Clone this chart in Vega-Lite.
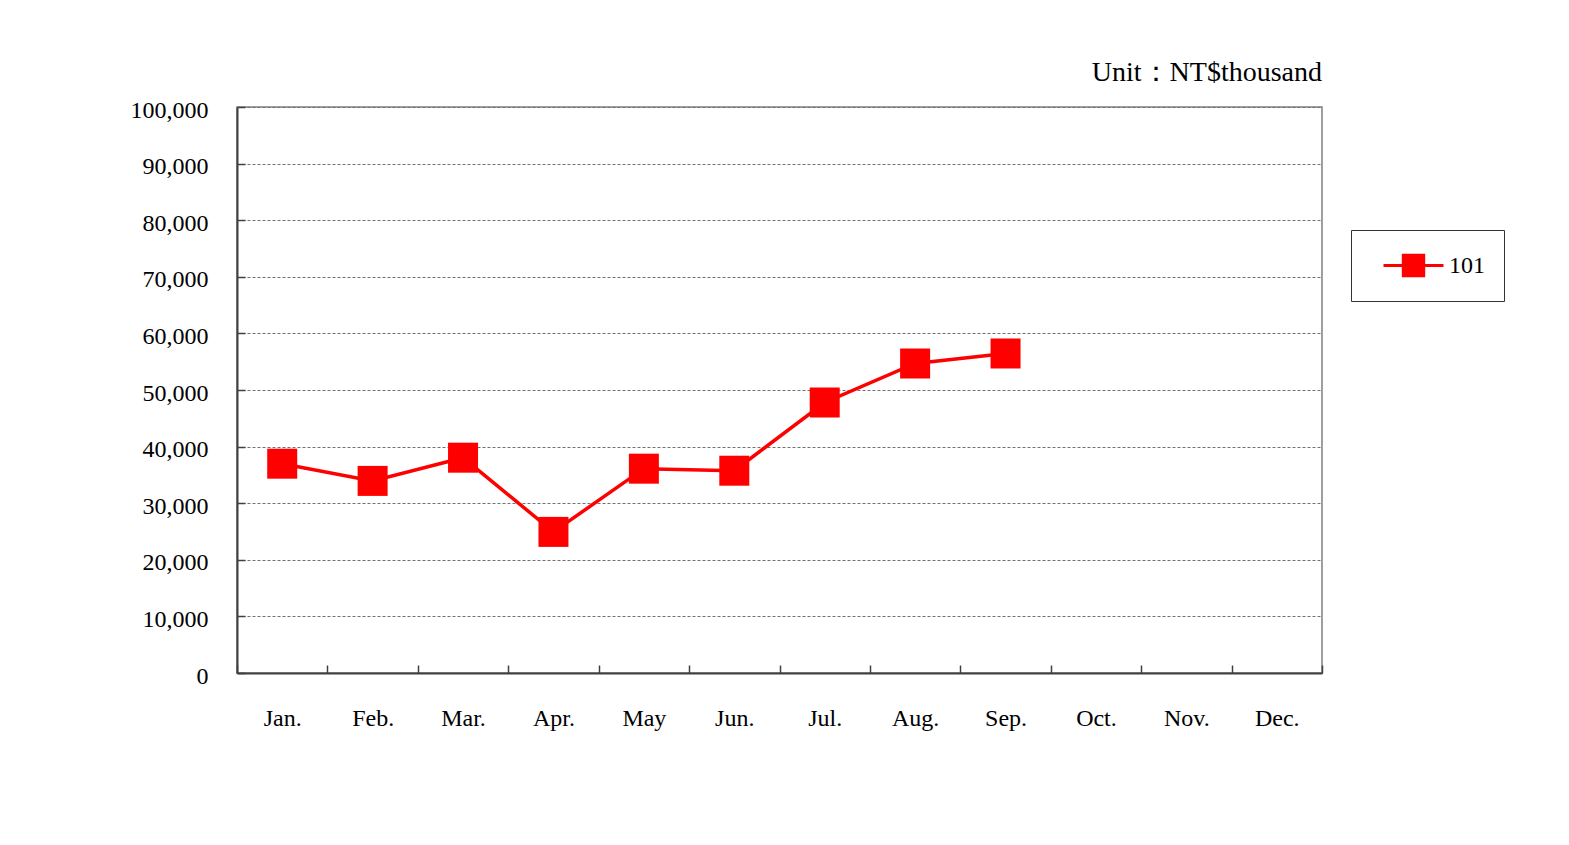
{
  "$schema": "https://vega.github.io/schema/vega-lite/v6.json",
  "autosize": {"type": "none"},
  "padding": {"left": 237, "top": 107, "right": 247, "bottom": 172},
  "width": 1085,
  "height": 566,
  "background": "white",
  "title": {
    "text": "Unit：NT$thousand",
    "anchor": "end",
    "frame": "group",
    "orient": "top",
    "baseline": "alphabetic",
    "offset": -11,
    "font": "Liberation Serif",
    "fontSize": 28,
    "fontWeight": "normal",
    "color": "#000000"
  },
  "data": {
    "values": [
      {"month": "Jan.", "value": 36980, "series": "101"},
      {"month": "Feb.", "value": 33940, "series": "101"},
      {"month": "Mar.", "value": 38040, "series": "101"},
      {"month": "Apr.", "value": 24930, "series": "101"},
      {"month": "May", "value": 36100, "series": "101"},
      {"month": "Jun.", "value": 35740, "series": "101"},
      {"month": "Jul.", "value": 47790, "series": "101"},
      {"month": "Aug.", "value": 54680, "series": "101"},
      {"month": "Sep.", "value": 56450, "series": "101"}
    ]
  },
  "mark": {
    "type": "line",
    "strokeWidth": 3.5,
    "point": {"filled": true, "shape": "square", "size": 900, "opacity": 1}
  },
  "encoding": {
    "x": {
      "field": "month",
      "type": "ordinal",
      "sort": null,
      "scale": {
        "type": "band",
        "domain": ["Jan.", "Feb.", "Mar.", "Apr.", "May", "Jun.", "Jul.", "Aug.", "Sep.", "Oct.", "Nov.", "Dec."],
        "paddingInner": 0,
        "paddingOuter": 0
      },
      "axis": {
        "title": null,
        "labelAngle": 0,
        "labelFont": "Liberation Serif",
        "labelFontSize": 24,
        "labelColor": "#000000",
        "labelPadding": 41,
        "tickBand": "extent",
        "tickSize": -8,
        "tickColor": "#404040",
        "tickWidth": 1.5,
        "domainColor": "#404040",
        "domainWidth": 2,
        "grid": false
      }
    },
    "y": {
      "field": "value",
      "type": "quantitative",
      "scale": {"domain": [0, 100000], "nice": false},
      "axis": {
        "title": null,
        "values": [0, 10000, 20000, 30000, 40000, 50000, 60000, 70000, 80000, 90000, 100000],
        "format": ",.0f",
        "labelFont": "Liberation Serif",
        "labelFontSize": 24,
        "labelColor": "#000000",
        "labelPadding": 37,
        "labelOffset": 3,
        "tickSize": -8,
        "tickColor": "#404040",
        "tickWidth": 1.5,
        "domainColor": "#404040",
        "domainWidth": 2,
        "grid": true,
        "gridColor": "#707070",
        "gridDash": [3, 2],
        "gridWidth": 1
      }
    },
    "color": {
      "field": "series",
      "type": "nominal",
      "scale": {"range": ["#FF0000"]},
      "legend": {
        "title": null,
        "orient": "none",
        "legendX": 1114,
        "legendY": 123,
        "padding": 19,
        "symbolOffset": 27,
        "symbolType": "M-2,0H-0.72M0.72,0H2M-0.68,-0.68H0.68V0.68H-0.68Z",
        "symbolSize": 900,
        "symbolStrokeWidth": 3,
        "symbolFillColor": "#FF0000",
        "symbolStrokeColor": "#FF0000",
        "labelFont": "Liberation Serif",
        "labelFontSize": 24,
        "labelColor": "#000000",
        "labelOffset": 19,
        "strokeColor": "#333333",
        "fillColor": "white"
      }
    }
  },
  "config": {
    "view": {"stroke": "#808080", "strokeWidth": 1.5}
  }
}
